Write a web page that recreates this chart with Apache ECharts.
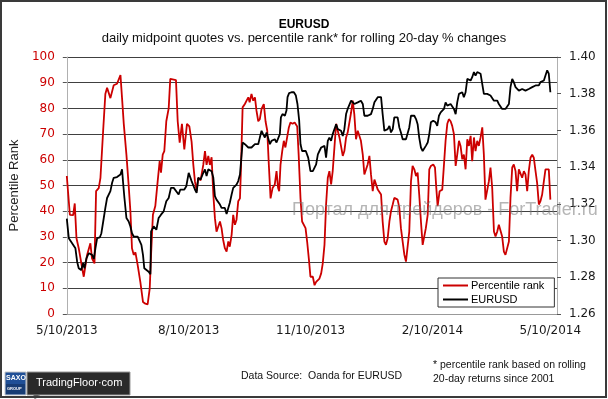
<!DOCTYPE html>
<html lang="en">
<head>
    <meta charset="UTF-8">
    <title>EURUSD percentile rank</title>
    <style>
        html, body { margin: 0; padding: 0; background: #fff; }
        #chart { width: 608px; height: 399px; }
    </style>
</head>
<body>
    <div id="chart"></div>

    <script src="https://cdn.jsdelivr.net/npm/echarts@6/dist/echarts.min.js"></script>
    <script>
        // x values are days since 5/10/2013
        var xTickDays = [0, 92, 184, 276, 365];
        var xTickLabels = ['5/10/2013', '8/10/2013', '11/10/2013', '2/10/2014', '5/10/2014'];

        // percentile rank (left axis)
        var rankDays = [0, 2.3, 4.8, 6, 7.3, 9, 11.6, 12.8, 15.3, 17.8, 19, 20.9, 22.1, 24.1, 25.4, 27.4, 29.1, 30.4, 32.9, 35.4,
            37.9, 40.5, 41.7, 43, 45, 46.7, 48, 49.2, 50.5, 51.8, 53.5, 55.5, 57.5, 59.3, 61, 62.6, 63.6, 65, 66.8, 68.6,
            70.1, 71.1, 72.4, 73.6, 75.1, 76.9, 78.1, 82.4, 83.7, 85.2, 86.9, 88.7, 90.7, 92.5, 94.2, 95.5, 96.7, 98, 99.2, 101,
            103, 104.3, 105.5, 106.8, 108, 109.3, 110.6, 111.8, 113, 114.3, 115.6, 116.8, 118, 119.3, 120.6, 121.9, 123, 124.4, 125.6, 126.9,
            128.1, 129.4, 130.7, 131.4, 132.7, 134.4, 135.7, 137, 138, 139.4, 140.7, 142, 143.2, 144.5, 145.7, 147, 148.7, 150, 151.3, 152.5,
            153.8, 155.3, 157, 158.3, 159.5, 160.3, 161.3, 162.6, 163.8, 165, 166.3, 167.6, 168.8, 170.4, 172, 173.9, 175, 176.4, 177.6, 178.9,
            180.2, 181.4, 182.9, 183.9, 185.7, 187, 188.2, 189.5, 190.7, 192, 193.2, 194.5, 195.7, 197, 198.2, 199.5, 200.7, 202, 203.3, 204.5,
            205.8, 207, 208.3, 209.5, 210.8, 212, 213.3, 214.6, 215.8, 217, 218.3, 219.6, 220.9, 222, 223.4, 224.6, 225.9, 227.1, 228.4, 229.6,
            230.9, 232.2, 233.4, 234.7, 235.9, 237.2, 238.4, 239.7, 240.9, 242.2, 243.5, 244.7, 246, 247.2, 248.5, 249.7, 251, 252.2, 253.5, 254.8,
            256, 257.3, 258.5, 259.8, 261, 262.3, 263.6, 264.8, 266, 267.3, 268.6, 269.8, 271, 272.4, 273.6, 274.8, 276.6, 277.9, 278.9, 279.9,
            281.4, 283.4, 284.7, 285.9, 287.2, 288.4, 289.7, 290.9, 292.2, 293.5, 294.7, 296, 297.2, 298.5, 299.7, 301, 302.3, 303.5, 304.8, 306,
            307.3, 308.5, 309.8, 311, 312.3, 313.6, 314.8, 316, 317.3, 318.6, 319.8, 321.1, 322.4, 323.6, 324.9, 326.1, 327.4, 328.6, 329.9, 331.1,
            332.4, 333.7, 334.9, 336.2, 337.4, 338.7, 339.9, 341.2, 342.5, 343.7, 345, 346.2, 347.5, 348.7, 350, 351.3, 352.5, 353.8, 355, 356.3,
            357.5, 358.8, 360.1, 361.3, 362.6, 363.8, 365];
        var rankValues = [53.7, 38.6, 38.5, 43, 29.5, 25.6, 17.8, 14.5, 23, 27.5, 21.7, 19.7, 47.8, 49, 53, 71, 85.6, 88, 84, 89,
            89.6, 93, 84, 74, 62, 50, 40, 25.6, 23, 24, 19, 12.5, 4.7, 4, 3.7, 10, 23, 38.6, 42, 51.7,
            59.5, 55, 62, 63.4, 75, 80, 91.5, 91, 75, 66.7, 74, 64, 74, 73, 67, 58, 51.7, 47.8, 53, 52,
            58, 63.4, 58, 61.5, 58, 61, 46.5, 37.3, 32, 31.5, 36, 33.4, 28.9, 25.6, 24.3, 28.2, 26.2, 30.8, 38.6, 34.7,
            36.7, 43.9, 45, 55.6, 80.4, 81.7, 83, 84.3, 82.4, 85.6, 83, 84.3, 79, 75, 75.8, 79.8, 81.7, 75, 71.3, 58,
            45, 49, 50.4, 55.6, 49, 47.8, 58, 63.4, 67.4, 64.8, 68.7, 72.6, 74.5, 74, 74.5, 73, 62, 45, 36, 36.7,
            33.4, 28.2, 20.4, 14.5, 14.5, 11.2, 12.5, 11.9, 13.8, 15.8, 19.7, 26.9, 42.6, 53, 55.6, 50.4, 55.6, 64.8, 74, 71.3,
            68.7, 68.7, 61.5, 63.4, 68.7, 70.6, 71.3, 78.5, 83, 77.8, 68, 71.3, 72, 67.4, 62, 54.3, 56.3, 58.2, 61.5, 54.3,
            47.8, 52.3, 51.7, 48.4, 48.4, 46.5, 36, 28.2, 26.9, 29.5, 36, 40, 42.6, 45.2, 45.2, 44.5, 41.3, 33.4, 28.2, 23,
            20.4, 19.7, 32.1, 51.7, 57.6, 56.3, 53.7, 55, 46.5, 36, 26.9, 26.2, 33.4, 38.6, 56.3, 57.6, 58.2, 57, 49, 42,
            47.8, 48.4, 58.2, 67.4, 74, 75.8, 75, 73.2, 70, 57.6, 62, 67.4, 65.4, 60.2, 62, 56.3, 68, 65.4, 69.3, 59.5,
            68.7, 63.4, 67.4, 65.4, 68.7, 72.6, 62, 44.5, 45.2, 51.7, 57, 49, 32.1, 30.2, 32.1, 34.7, 35.4, 30.2, 24.3, 23,
            23.6, 28.2, 45.2, 57, 58.2, 55.6, 47.8, 56.3, 57, 53, 55.6, 54.3, 47.8, 55.6, 60.8, 62, 60.8, 55.6, 51, 42.6,
            43.9, 46.5, 51.7, 56.3, 57, 56.3, 44.5];

        // EURUSD midpoint (right axis)
        var priceDays = [0, 1.5, 4, 6.5, 7.8, 9, 10.8, 12.3, 13.3, 14.8, 16.6, 17.8, 19.1, 20.4, 21.6, 22.9, 24.9, 26.1, 27.9, 29.1,
            30.4, 31.7, 32.9, 34.2, 35.4, 37.9, 39.2, 40.5, 41.7, 42.5, 43.5, 45, 46.7, 48, 49.2, 50.5, 51.8, 53.5, 55, 56.3,
            57.5, 58.5, 60, 61.8, 63.1, 63.6, 65.6, 67.6, 69.3, 71.1, 73.1, 75.1, 76.9, 78.6, 80.7, 81.9, 84.4, 85.7, 86.9, 88.7,
            90.2, 92, 94.2, 95.5, 96.7, 98, 99.2, 101, 102.5, 104.3, 105.5, 106.8, 108, 109.3, 110.6, 111.8, 113, 114.3, 115.6, 116.8,
            118, 119.3, 120.6, 121.9, 123, 124.4, 125.6, 126.9, 128.1, 129.4, 130.7, 131.4, 132.7, 134.4, 135.7, 137, 138, 139.4, 140.7, 142,
            143.2, 144.5, 145.7, 147, 148.2, 149.5, 150.8, 152, 153.3, 154.5, 155.8, 157, 158.3, 159.5, 160.8, 161.6, 162.8, 164.6, 165.8, 166.6,
            167.8, 169.6, 171.4, 172.9, 174.1, 175.4, 176.4, 177.6, 178.9, 180.4, 182.2, 183.9, 185.7, 187, 188.2, 189.5, 190.7, 192, 193.2, 194.5,
            195.7, 197, 198.2, 199.5, 200.7, 202, 203.3, 204.5, 205.8, 207, 208.3, 209.5, 210.8, 212, 213.3, 214.6, 215.8, 217, 218.3, 219.6,
            220.9, 222, 223.4, 224.6, 225.9, 227.1, 228.4, 229.6, 230.9, 232.2, 233.4, 234.7, 235.9, 237.2, 238.4, 239.7, 240.9, 242.2, 243.5, 244.7,
            246, 247.2, 248.5, 249.7, 251, 252.2, 253.5, 254.8, 256, 257.3, 258.5, 259.8, 261, 262.3, 263.6, 264.8, 266, 267.3, 268.6, 269.8,
            271, 272.4, 273.6, 274.8, 276.6, 278.4, 279.6, 280.9, 282.2, 283.4, 284.7, 285.9, 287.2, 288.4, 289.7, 290.9, 292.2, 293.5, 294.7, 296,
            297.2, 298.5, 299.7, 301, 302.3, 303.5, 304.8, 306, 307.3, 308.5, 309.8, 311, 312.3, 313.6, 314.8, 316, 317.3, 318.6, 319.8, 321.1,
            322.4, 323.6, 324.9, 326.1, 327.4, 328.6, 329.9, 331.1, 332.4, 333.7, 334.9, 336.2, 337.4, 338.7, 339.9, 341.2, 342.5, 343.7, 345, 346.2,
            347.5, 348.7, 350, 351.3, 352.5, 353.8, 355, 356.3, 357.5, 358.8, 360.1, 361.3, 362.6, 363.8, 365];
        var priceValues = [1.3120, 1.3013, 1.2986, 1.2958, 1.2885, 1.2849, 1.2839, 1.2876, 1.2849, 1.2903, 1.2931, 1.2936, 1.2922, 1.2900, 1.2958, 1.3013, 1.3017, 1.3040, 1.3123, 1.3178,
            1.3232, 1.3232, 1.3269, 1.3315, 1.3342, 1.3346, 1.3351, 1.3360, 1.3388, 1.3315, 1.3232, 1.3123, 1.3104, 1.3077, 1.3040, 1.3022, 1.3031, 1.3022, 1.3031, 1.2976,
            1.2922, 1.2849, 1.2839, 1.2830, 1.2816, 1.3050, 1.3077, 1.3059, 1.3123, 1.3141, 1.3159, 1.3214, 1.3232, 1.3287, 1.3287, 1.3278, 1.3251, 1.3278, 1.3287, 1.3278,
            1.3296, 1.3369, 1.3324, 1.3333, 1.3278, 1.3260, 1.3342, 1.3333, 1.3360, 1.3388, 1.3351, 1.3388, 1.3378, 1.3378, 1.3342, 1.3242, 1.3223, 1.3214, 1.3196, 1.3178,
            1.3168, 1.3178, 1.3145, 1.3178, 1.3205, 1.3251, 1.3287, 1.3296, 1.3305, 1.3324, 1.3360, 1.3369, 1.3534, 1.3525, 1.3525, 1.3507, 1.3497, 1.3507, 1.3516, 1.3525,
            1.3534, 1.3525, 1.3561, 1.3598, 1.3580, 1.3561, 1.3589, 1.3580, 1.3525, 1.3543, 1.3534, 1.3552, 1.3534, 1.3525, 1.3580, 1.3671, 1.3689, 1.3680, 1.3708, 1.3781,
            1.3803, 1.3808, 1.3808, 1.3790, 1.3744, 1.3653, 1.3525, 1.3488, 1.3497, 1.3488, 1.3452, 1.3378, 1.3378, 1.3388, 1.3415, 1.3470, 1.3488, 1.3507, 1.3497, 1.3516,
            1.3452, 1.3543, 1.3561, 1.3543, 1.3580, 1.3589, 1.3634, 1.3607, 1.3598, 1.3598, 1.3570, 1.3607, 1.3689, 1.3717, 1.3717, 1.3762, 1.3771, 1.3744, 1.3744, 1.3753,
            1.3753, 1.3762, 1.3744, 1.3680, 1.3689, 1.3680, 1.3671, 1.3689, 1.3717, 1.3753, 1.3762, 1.3781, 1.3790, 1.3781, 1.3689, 1.3598, 1.3589, 1.3607, 1.3625, 1.3589,
            1.3607, 1.3671, 1.3671, 1.3671, 1.3616, 1.3589, 1.3552, 1.3543, 1.3552, 1.3543, 1.3616, 1.3680, 1.3680, 1.3680, 1.3662, 1.3634, 1.3561, 1.3507, 1.3488, 1.3497,
            1.3516, 1.3534, 1.3580, 1.3644, 1.3653, 1.3644, 1.3625, 1.3680, 1.3698, 1.3708, 1.3717, 1.3753, 1.3735, 1.3735, 1.3744, 1.3744, 1.3717, 1.3689, 1.3753, 1.3799,
            1.3790, 1.3808, 1.3781, 1.3808, 1.3881, 1.3881, 1.3872, 1.3890, 1.3918, 1.3899, 1.3918, 1.3918, 1.3909, 1.3909, 1.3799, 1.3790, 1.3799, 1.3808, 1.3790, 1.3799,
            1.3762, 1.3753, 1.3762, 1.3744, 1.3735, 1.3717, 1.3708, 1.3717, 1.3708, 1.3744, 1.3836, 1.3881, 1.3863, 1.3836, 1.3845, 1.3817, 1.3826, 1.3826, 1.3817, 1.3817,
            1.3808, 1.3826, 1.3836, 1.3836, 1.3845, 1.3845, 1.3854, 1.3845, 1.3863, 1.3872, 1.3872, 1.3899, 1.3927, 1.3909, 1.3808];

        var red = '#cc0000';

        function zip(xs, ys) {
            return xs.map(function (x, i) { return [x, ys[i]]; });
        }

        var myChart = echarts.init(document.getElementById('chart'));

        myChart.setOption({
            animation: false,
            backgroundColor: '#fff',
            title: {
                text: 'EURUSD',
                subtext: 'daily midpoint quotes vs. percentile rank* for rolling 20-day % changes',
                left: 'center',
                top: 14,
                itemGap: 1,
                textStyle: { fontFamily: 'Liberation Sans', fontSize: 12, fontWeight: 'bold', color: '#000' },
                subtextStyle: { fontFamily: 'Liberation Sans', fontSize: 13, color: '#111' }
            },
            legend: {
                orient: 'vertical',
                left: 438,
                top: 278,
                padding: [2, 10, 2, 5],
                itemGap: 3,
                itemWidth: 25,
                itemHeight: 2,
                icon: 'rect',
                backgroundColor: '#fff',
                borderColor: '#333',
                borderWidth: 1,
                borderRadius: 0,
                textStyle: { fontFamily: 'Liberation Sans', fontSize: 11, color: '#000', padding: [0, 0, 0, -2] },
                data: ['Percentile rank', 'EURUSD']
            },
            grid: { left: 65, right: 51, top: 57, bottom: 85 },
            xAxis: {
                type: 'value',
                min: 0,
                max: 370,
                axisLine: { lineStyle: { color: '#999' } },
                axisTick: { show: false },
                splitLine: { show: false },
                axisLabel: {
                    customValues: xTickDays,
                    margin: 11,
                    fontFamily: 'DejaVu Sans',
                    fontSize: 12,
                    color: '#1a1a1a',
                    formatter: function (v) {
                        var i = xTickDays.indexOf(v);
                        return i >= 0 ? xTickLabels[i] : '';
                    }
                }
            },
            yAxis: [
                {
                    type: 'value',
                    min: 0,
                    max: 100,
                    interval: 10,
                    name: 'Percentile Rank',
                    nameLocation: 'middle',
                    nameGap: 36,
                    nameTextStyle: { fontFamily: 'Liberation Sans', fontSize: 13, color: '#222' },
                    axisLine: { show: true, lineStyle: { color: '#b0b0b0', width: 1 } },
                    axisTick: { show: true, length: 4, lineStyle: { color: '#555' } },
                    splitLine: { lineStyle: { color: '#404040', width: 1 } },
                    axisLabel: { margin: 12, fontFamily: 'DejaVu Sans', fontSize: 12, color: red }
                },
                {
                    type: 'value',
                    min: 1.26,
                    max: 1.40,
                    interval: 0.02,
                    position: 'right',
                    axisLine: { show: true, lineStyle: { color: '#b0b0b0', width: 1 } },
                    axisTick: { show: true, length: 4, lineStyle: { color: '#555' } },
                    splitLine: { show: false },
                    axisLabel: {
                        margin: 12, fontFamily: 'DejaVu Sans', fontSize: 12, color: '#1a1a1a',
                        formatter: function (v) { return v.toFixed(2); }
                    }
                }
            ],
            series: [
                {
                    name: 'Percentile rank',
                    type: 'line',
                    yAxisIndex: 0,
                    symbol: 'none',
                    color: red,
                    lineStyle: { color: red, width: 1.8 },
                    data: zip(rankDays, rankValues)
                },
                {
                    name: 'EURUSD',
                    type: 'line',
                    yAxisIndex: 1,
                    symbol: 'none',
                    color: '#000',
                    lineStyle: { color: '#000', width: 1.8 },
                    data: zip(priceDays, priceValues)
                }
            ],
            graphic: [
                // frame
                { type: 'rect', shape: { x: 1, y: 1, width: 605, height: 396 },
                  style: { fill: null, stroke: '#3a3a3a', lineWidth: 2 }, z: 100 },
                // watermark
                { type: 'text', left: 292, top: 201, z: 50,
                  style: { text: 'Портал для трейдеров - ForTrader.ru', font: '18px "Liberation Sans"',
                           fill: 'rgba(120,120,120,0.55)' } },
                // footer
                { type: 'text', left: 241, top: 371,
                  style: { text: 'Data Source:  Oanda for EURUSD', font: '10.5px "Liberation Sans"', fill: '#111' } },
                { type: 'text', left: 433, top: 360,
                  style: { text: '* percentile rank based on rolling', font: '10.5px "Liberation Sans"', fill: '#111' } },
                { type: 'text', left: 433, top: 374,
                  style: { text: '20-day returns since 2001', font: '10.5px "Liberation Sans"', fill: '#111' } },
                // logo
                { type: 'rect', shape: { x: 5, y: 372, width: 21, height: 23 },
                  style: { fill: '#1f4f96', stroke: '#c8c8c8', lineWidth: 1 } },
                { type: 'rect', shape: { x: 6, y: 384, width: 19, height: 10 },
                  style: { fill: '#173c74' } },
                { type: 'text', left: 6, top: 375,
                  style: { text: 'SAXO', font: 'bold 7px "Liberation Sans"', fill: '#fff' } },
                { type: 'text', left: 7, top: 387,
                  style: { text: 'GROUP', font: 'bold 4px "Liberation Sans"', fill: '#fff' } },
                { type: 'polygon', shape: { points: [[33, 394], [41, 394], [35, 399]] },
                  style: { fill: '#2a2a2a', stroke: '#999', lineWidth: 1 } },
                { type: 'rect', shape: { x: 27, y: 372, width: 103, height: 23 },
                  style: { fill: '#2a2a2a', stroke: '#999', lineWidth: 1 } },
                { type: 'text', left: 36, top: 377,
                  style: { text: 'TradingFloor·com', font: '11px "Liberation Sans"', fill: '#fff' } }
            ]
        });
    </script>
</body>
</html>
